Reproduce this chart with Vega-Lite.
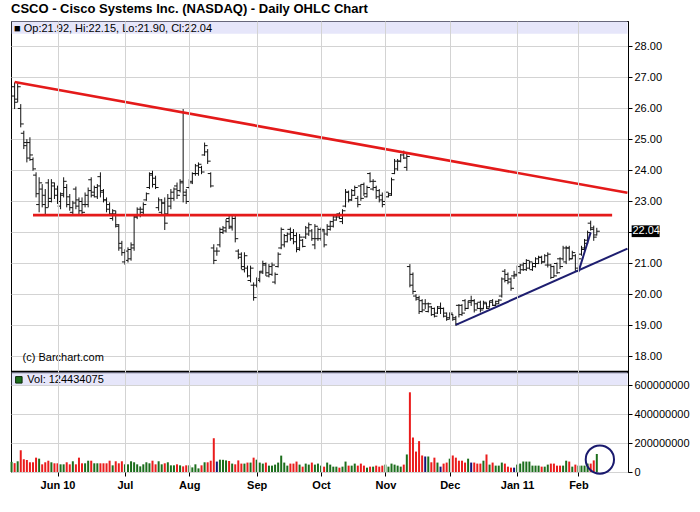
{
  "$schema": "https://vega.github.io/schema/vega-lite/v6.json",
  "description": "CSCO daily OHLC chart with volume, May 2010 - Feb 2011, with trend lines.",
  "title": {
    "text": "CSCO - Cisco Systems Inc. (NASDAQ) - Daily OHLC Chart",
    "anchor": "start",
    "frame": "group",
    "font": "Liberation Sans",
    "fontSize": 13,
    "fontWeight": "bold",
    "color": "#000",
    "baseline": "alphabetic",
    "offset": -5
  },
  "padding": {"left": 8, "top": 2, "right": 0, "bottom": 0},
  "background": "white",
  "spacing": 0,
  "bounds": "flush",
  "resolve": {"scale": {"x": "shared"}},
  "config": {
    "view": {"stroke": "#000", "strokeWidth": 1},
    "font": "Liberation Sans",
    "axis": {
      "labelFont": "Liberation Sans",
      "labelFontSize": 11,
      "labelColor": "#000",
      "gridColor": "#d3d3d3",
      "gridWidth": 1,
      "tickColor": "#000",
      "domainColor": "#000",
      "labelOverlap": false,
      "title": null
    }
  },
  "datasets": {
    "ohlc": [
      {"d":"2010-05-10","o":26.00,"h":26.52,"l":25.93,"c":26.40,"v":70000000},
      {"d":"2010-05-11","o":26.70,"h":26.84,"l":25.98,"c":26.20,"v":61000000},
      {"d":"2010-05-12","o":26.30,"h":26.81,"l":26.20,"c":26.70,"v":74000000},
      {"d":"2010-05-13","o":26.00,"h":26.14,"l":25.39,"c":25.50,"v":150000000},
      {"d":"2010-05-14","o":25.20,"h":25.28,"l":24.69,"c":24.80,"v":88000000},
      {"d":"2010-05-17","o":24.90,"h":25.01,"l":24.26,"c":24.40,"v":83000000},
      {"d":"2010-05-18","o":24.90,"h":25.07,"l":24.31,"c":24.50,"v":67000000},
      {"d":"2010-05-19","o":24.35,"h":24.42,"l":23.99,"c":24.05,"v":67000000},
      {"d":"2010-05-20","o":23.85,"h":23.94,"l":23.13,"c":23.25,"v":99000000},
      {"d":"2010-05-21","o":22.90,"h":23.78,"l":22.65,"c":23.60,"v":92000000},
      {"d":"2010-05-24","o":23.40,"h":23.56,"l":22.81,"c":22.90,"v":53000000},
      {"d":"2010-05-25","o":23.20,"h":23.40,"l":22.59,"c":22.80,"v":67000000},
      {"d":"2010-05-26","o":23.60,"h":23.72,"l":22.81,"c":23.00,"v":78000000},
      {"d":"2010-05-27","o":23.10,"h":23.72,"l":22.97,"c":23.60,"v":67000000},
      {"d":"2010-05-28","o":23.50,"h":23.61,"l":23.08,"c":23.20,"v":60000000},
      {"d":"2010-06-01","o":23.40,"h":23.51,"l":22.92,"c":23.00,"v":60000000},
      {"d":"2010-06-02","o":22.85,"h":23.29,"l":22.75,"c":23.20,"v":53000000},
      {"d":"2010-06-03","o":23.25,"h":23.78,"l":23.13,"c":23.65,"v":53000000},
      {"d":"2010-06-04","o":23.45,"h":23.56,"l":22.81,"c":22.90,"v":67000000},
      {"d":"2010-06-07","o":23.15,"h":23.24,"l":22.70,"c":22.80,"v":53000000},
      {"d":"2010-06-08","o":22.65,"h":23.02,"l":22.59,"c":22.95,"v":74000000},
      {"d":"2010-06-09","o":23.40,"h":23.48,"l":22.75,"c":22.85,"v":53000000},
      {"d":"2010-06-10","o":23.05,"h":23.13,"l":22.59,"c":22.70,"v":99000000},
      {"d":"2010-06-11","o":23.00,"h":23.13,"l":22.59,"c":22.65,"v":60000000},
      {"d":"2010-06-14","o":22.90,"h":23.29,"l":22.81,"c":23.20,"v":60000000},
      {"d":"2010-06-15","o":22.90,"h":23.45,"l":22.81,"c":23.35,"v":78000000},
      {"d":"2010-06-16","o":23.70,"h":23.78,"l":23.13,"c":23.30,"v":78000000},
      {"d":"2010-06-17","o":23.20,"h":23.51,"l":23.13,"c":23.45,"v":60000000},
      {"d":"2010-06-18","o":23.15,"h":23.56,"l":23.08,"c":23.50,"v":60000000},
      {"d":"2010-06-21","o":23.80,"h":23.94,"l":23.13,"c":23.30,"v":60000000},
      {"d":"2010-06-22","o":23.35,"h":23.40,"l":22.97,"c":23.05,"v":60000000},
      {"d":"2010-06-23","o":23.05,"h":23.13,"l":22.65,"c":22.75,"v":60000000},
      {"d":"2010-06-24","o":22.90,"h":22.97,"l":22.54,"c":22.60,"v":78000000},
      {"d":"2010-06-25","o":22.45,"h":22.75,"l":22.38,"c":22.70,"v":46000000},
      {"d":"2010-06-28","o":22.60,"h":22.70,"l":22.16,"c":22.25,"v":74000000},
      {"d":"2010-06-29","o":22.20,"h":22.27,"l":21.41,"c":21.50,"v":60000000},
      {"d":"2010-06-30","o":21.65,"h":21.73,"l":21.25,"c":21.35,"v":74000000},
      {"d":"2010-07-01","o":21.05,"h":21.46,"l":20.96,"c":21.40,"v":53000000},
      {"d":"2010-07-02","o":21.10,"h":21.52,"l":21.03,"c":21.45,"v":53000000},
      {"d":"2010-07-06","o":21.15,"h":21.68,"l":21.09,"c":21.60,"v":74000000},
      {"d":"2010-07-07","o":21.50,"h":22.59,"l":21.41,"c":22.50,"v":67000000},
      {"d":"2010-07-08","o":22.50,"h":22.81,"l":22.43,"c":22.75,"v":53000000},
      {"d":"2010-07-09","o":22.55,"h":22.83,"l":22.49,"c":22.75,"v":39000000},
      {"d":"2010-07-12","o":22.65,"h":22.97,"l":22.59,"c":22.90,"v":53000000},
      {"d":"2010-07-13","o":23.05,"h":23.29,"l":23.02,"c":23.25,"v":67000000},
      {"d":"2010-07-14","o":23.45,"h":23.94,"l":23.40,"c":23.85,"v":60000000},
      {"d":"2010-07-15","o":23.90,"h":23.99,"l":23.45,"c":23.55,"v":78000000},
      {"d":"2010-07-16","o":23.75,"h":23.83,"l":23.40,"c":23.45,"v":53000000},
      {"d":"2010-07-19","o":22.80,"h":23.13,"l":22.70,"c":23.05,"v":74000000},
      {"d":"2010-07-20","o":22.65,"h":23.08,"l":22.54,"c":22.95,"v":53000000},
      {"d":"2010-07-21","o":22.95,"h":23.13,"l":22.08,"c":22.30,"v":60000000},
      {"d":"2010-07-22","o":22.60,"h":23.24,"l":22.54,"c":23.10,"v":67000000},
      {"d":"2010-07-23","o":22.85,"h":23.40,"l":22.75,"c":23.30,"v":46000000},
      {"d":"2010-07-26","o":23.10,"h":23.45,"l":23.02,"c":23.40,"v":46000000},
      {"d":"2010-07-27","o":23.50,"h":23.61,"l":23.08,"c":23.20,"v":53000000},
      {"d":"2010-07-28","o":23.35,"h":23.72,"l":23.29,"c":23.65,"v":46000000},
      {"d":"2010-07-29","o":23.60,"h":25.98,"l":22.97,"c":23.20,"v":39000000},
      {"d":"2010-07-30","o":23.30,"h":23.40,"l":22.92,"c":23.00,"v":46000000},
      {"d":"2010-08-02","o":23.45,"h":23.72,"l":23.40,"c":23.65,"v":46000000},
      {"d":"2010-08-03","o":23.60,"h":23.94,"l":23.56,"c":23.90,"v":32000000},
      {"d":"2010-08-04","o":23.90,"h":24.21,"l":23.83,"c":24.15,"v":53000000},
      {"d":"2010-08-05","o":23.90,"h":24.26,"l":23.83,"c":24.20,"v":25000000},
      {"d":"2010-08-06","o":24.10,"h":24.15,"l":23.88,"c":23.95,"v":46000000},
      {"d":"2010-08-09","o":24.50,"h":24.90,"l":24.47,"c":24.80,"v":67000000},
      {"d":"2010-08-10","o":24.60,"h":24.69,"l":24.21,"c":24.30,"v":67000000},
      {"d":"2010-08-11","o":23.90,"h":23.94,"l":23.45,"c":23.50,"v":78000000},
      {"d":"2010-08-12","o":21.50,"h":21.62,"l":20.98,"c":21.10,"v":233000000},
      {"d":"2010-08-13","o":21.40,"h":21.52,"l":21.25,"c":21.40,"v":72000000},
      {"d":"2010-08-16","o":21.60,"h":22.16,"l":21.52,"c":22.10,"v":85000000},
      {"d":"2010-08-17","o":22.00,"h":22.21,"l":21.95,"c":22.15,"v":84000000},
      {"d":"2010-08-18","o":22.05,"h":22.43,"l":22.00,"c":22.35,"v":80000000},
      {"d":"2010-08-19","o":22.45,"h":22.54,"l":22.11,"c":22.20,"v":76000000},
      {"d":"2010-08-20","o":22.15,"h":22.54,"l":22.06,"c":22.45,"v":58000000},
      {"d":"2010-08-23","o":22.45,"h":22.54,"l":21.68,"c":21.80,"v":53000000},
      {"d":"2010-08-24","o":21.40,"h":21.46,"l":21.14,"c":21.20,"v":80000000},
      {"d":"2010-08-25","o":21.30,"h":21.36,"l":20.82,"c":20.90,"v":58000000},
      {"d":"2010-08-26","o":20.80,"h":21.36,"l":20.71,"c":21.25,"v":58000000},
      {"d":"2010-08-27","o":20.85,"h":20.93,"l":20.55,"c":20.60,"v":65000000},
      {"d":"2010-08-30","o":20.45,"h":20.93,"l":20.39,"c":20.85,"v":65000000},
      {"d":"2010-08-31","o":20.30,"h":20.39,"l":19.80,"c":19.90,"v":99000000},
      {"d":"2010-09-01","o":20.30,"h":20.55,"l":20.23,"c":20.50,"v":85000000},
      {"d":"2010-09-02","o":20.45,"h":20.76,"l":20.39,"c":20.70,"v":65000000},
      {"d":"2010-09-03","o":20.75,"h":21.09,"l":20.66,"c":21.00,"v":58000000},
      {"d":"2010-09-07","o":20.95,"h":21.03,"l":20.60,"c":20.70,"v":65000000},
      {"d":"2010-09-08","o":20.60,"h":20.98,"l":20.55,"c":20.90,"v":44000000},
      {"d":"2010-09-09","o":20.65,"h":21.03,"l":20.60,"c":20.95,"v":44000000},
      {"d":"2010-09-10","o":20.40,"h":20.71,"l":20.33,"c":20.65,"v":51000000},
      {"d":"2010-09-13","o":20.90,"h":21.36,"l":20.87,"c":21.30,"v":65000000},
      {"d":"2010-09-14","o":21.50,"h":22.16,"l":21.46,"c":22.10,"v":113000000},
      {"d":"2010-09-15","o":21.60,"h":21.95,"l":21.52,"c":21.90,"v":65000000},
      {"d":"2010-09-16","o":21.70,"h":22.00,"l":21.68,"c":21.95,"v":44000000},
      {"d":"2010-09-17","o":22.10,"h":22.16,"l":21.73,"c":21.80,"v":58000000},
      {"d":"2010-09-20","o":22.00,"h":22.11,"l":21.62,"c":21.70,"v":58000000},
      {"d":"2010-09-21","o":21.90,"h":22.00,"l":21.36,"c":21.45,"v":72000000},
      {"d":"2010-09-22","o":21.50,"h":21.95,"l":21.41,"c":21.85,"v":51000000},
      {"d":"2010-09-23","o":21.75,"h":21.79,"l":21.52,"c":21.55,"v":37000000},
      {"d":"2010-09-24","o":21.85,"h":22.21,"l":21.79,"c":22.15,"v":58000000},
      {"d":"2010-09-27","o":21.95,"h":22.32,"l":21.89,"c":22.25,"v":51000000},
      {"d":"2010-09-28","o":22.05,"h":22.11,"l":21.73,"c":21.80,"v":65000000},
      {"d":"2010-09-29","o":21.60,"h":22.27,"l":21.46,"c":22.20,"v":51000000},
      {"d":"2010-09-30","o":21.80,"h":22.16,"l":21.73,"c":22.10,"v":58000000},
      {"d":"2010-10-01","o":21.80,"h":22.16,"l":21.73,"c":22.10,"v":44000000},
      {"d":"2010-10-04","o":22.05,"h":22.11,"l":21.52,"c":21.60,"v":37000000},
      {"d":"2010-10-05","o":21.95,"h":22.27,"l":21.89,"c":22.20,"v":65000000},
      {"d":"2010-10-06","o":22.10,"h":22.38,"l":22.06,"c":22.35,"v":51000000},
      {"d":"2010-10-07","o":22.20,"h":22.54,"l":22.16,"c":22.50,"v":37000000},
      {"d":"2010-10-08","o":22.40,"h":22.54,"l":22.38,"c":22.50,"v":37000000},
      {"d":"2010-10-11","o":22.60,"h":22.65,"l":22.43,"c":22.45,"v":30000000},
      {"d":"2010-10-12","o":22.35,"h":22.75,"l":22.27,"c":22.70,"v":37000000},
      {"d":"2010-10-13","o":22.85,"h":23.40,"l":22.81,"c":23.30,"v":72000000},
      {"d":"2010-10-14","o":23.30,"h":23.35,"l":22.97,"c":23.05,"v":44000000},
      {"d":"2010-10-15","o":23.05,"h":23.40,"l":23.02,"c":23.35,"v":44000000},
      {"d":"2010-10-18","o":23.20,"h":23.51,"l":23.18,"c":23.45,"v":58000000},
      {"d":"2010-10-19","o":23.10,"h":23.18,"l":22.81,"c":22.90,"v":44000000},
      {"d":"2010-10-20","o":23.50,"h":23.56,"l":23.02,"c":23.10,"v":58000000},
      {"d":"2010-10-21","o":23.55,"h":23.61,"l":23.18,"c":23.25,"v":44000000},
      {"d":"2010-10-22","o":23.15,"h":23.51,"l":23.13,"c":23.45,"v":30000000},
      {"d":"2010-10-25","o":23.90,"h":23.94,"l":23.61,"c":23.65,"v":37000000},
      {"d":"2010-10-26","o":23.40,"h":23.72,"l":23.35,"c":23.65,"v":37000000},
      {"d":"2010-10-27","o":23.45,"h":23.51,"l":23.08,"c":23.15,"v":44000000},
      {"d":"2010-10-28","o":23.35,"h":23.40,"l":22.97,"c":23.05,"v":37000000},
      {"d":"2010-10-29","o":23.20,"h":23.29,"l":22.81,"c":22.90,"v":44000000},
      {"d":"2010-11-01","o":23.00,"h":23.35,"l":22.97,"c":23.30,"v":51000000},
      {"d":"2010-11-02","o":23.15,"h":23.29,"l":23.13,"c":23.25,"v":37000000},
      {"d":"2010-11-03","o":23.20,"h":23.77,"l":23.18,"c":23.70,"v":58000000},
      {"d":"2010-11-04","o":23.90,"h":24.37,"l":23.88,"c":24.30,"v":51000000},
      {"d":"2010-11-05","o":24.05,"h":24.37,"l":23.99,"c":24.30,"v":44000000},
      {"d":"2010-11-08","o":24.30,"h":24.53,"l":24.26,"c":24.50,"v":37000000},
      {"d":"2010-11-09","o":24.60,"h":24.64,"l":24.37,"c":24.40,"v":51000000},
      {"d":"2010-11-10","o":24.10,"h":24.58,"l":23.99,"c":24.45,"v":121000000},
      {"d":"2010-11-11","o":20.90,"h":20.98,"l":20.23,"c":20.30,"v":550000000},
      {"d":"2010-11-12","o":20.65,"h":20.71,"l":20.01,"c":20.10,"v":238000000},
      {"d":"2010-11-15","o":19.95,"h":20.01,"l":19.80,"c":19.85,"v":141000000},
      {"d":"2010-11-16","o":19.90,"h":19.96,"l":19.37,"c":19.45,"v":213000000},
      {"d":"2010-11-17","o":19.80,"h":19.85,"l":19.42,"c":19.50,"v":114000000},
      {"d":"2010-11-18","o":19.70,"h":19.85,"l":19.53,"c":19.70,"v":107000000},
      {"d":"2010-11-19","o":19.45,"h":19.74,"l":19.42,"c":19.70,"v":107000000},
      {"d":"2010-11-22","o":19.60,"h":19.63,"l":19.31,"c":19.35,"v":67000000},
      {"d":"2010-11-23","o":19.55,"h":19.58,"l":19.26,"c":19.30,"v":99000000},
      {"d":"2010-11-24","o":19.40,"h":19.63,"l":19.37,"c":19.60,"v":65000000},
      {"d":"2010-11-26","o":19.55,"h":19.74,"l":19.37,"c":19.55,"v":37000000},
      {"d":"2010-11-29","o":19.55,"h":19.58,"l":19.26,"c":19.30,"v":58000000},
      {"d":"2010-11-30","o":19.40,"h":19.42,"l":19.15,"c":19.20,"v":65000000},
      {"d":"2010-12-01","o":19.25,"h":19.42,"l":19.21,"c":19.40,"v":92000000},
      {"d":"2010-12-02","o":19.35,"h":19.37,"l":19.15,"c":19.20,"v":114000000},
      {"d":"2010-12-03","o":19.25,"h":19.31,"l":18.99,"c":19.05,"v":99000000},
      {"d":"2010-12-06","o":19.65,"h":19.69,"l":19.26,"c":19.35,"v":78000000},
      {"d":"2010-12-07","o":19.65,"h":19.69,"l":19.31,"c":19.40,"v":78000000},
      {"d":"2010-12-08","o":19.80,"h":19.85,"l":19.47,"c":19.55,"v":65000000},
      {"d":"2010-12-09","o":19.55,"h":19.80,"l":19.53,"c":19.75,"v":92000000},
      {"d":"2010-12-10","o":19.80,"h":19.96,"l":19.63,"c":19.80,"v":65000000},
      {"d":"2010-12-13","o":19.80,"h":19.85,"l":19.42,"c":19.50,"v":65000000},
      {"d":"2010-12-14","o":19.70,"h":19.74,"l":19.53,"c":19.55,"v":58000000},
      {"d":"2010-12-15","o":19.75,"h":19.80,"l":19.42,"c":19.50,"v":58000000},
      {"d":"2010-12-16","o":19.55,"h":19.80,"l":19.53,"c":19.75,"v":78000000},
      {"d":"2010-12-17","o":19.70,"h":19.74,"l":19.53,"c":19.55,"v":121000000},
      {"d":"2010-12-20","o":19.60,"h":19.80,"l":19.58,"c":19.75,"v":51000000},
      {"d":"2010-12-21","o":19.80,"h":19.85,"l":19.63,"c":19.65,"v":65000000},
      {"d":"2010-12-22","o":19.65,"h":19.80,"l":19.63,"c":19.78,"v":44000000},
      {"d":"2010-12-23","o":19.70,"h":19.85,"l":19.69,"c":19.82,"v":44000000},
      {"d":"2010-12-27","o":19.95,"h":20.55,"l":19.90,"c":20.50,"v":65000000},
      {"d":"2010-12-28","o":20.75,"h":20.82,"l":20.39,"c":20.45,"v":58000000},
      {"d":"2010-12-29","o":20.65,"h":20.71,"l":20.33,"c":20.40,"v":37000000},
      {"d":"2010-12-30","o":20.50,"h":20.55,"l":20.12,"c":20.20,"v":30000000},
      {"d":"2010-12-31","o":20.60,"h":20.76,"l":20.50,"c":20.60,"v":30000000},
      {"d":"2011-01-03","o":20.65,"h":20.93,"l":20.60,"c":20.90,"v":51000000},
      {"d":"2011-01-04","o":20.70,"h":20.98,"l":20.66,"c":20.95,"v":58000000},
      {"d":"2011-01-05","o":20.80,"h":21.03,"l":20.76,"c":21.00,"v":72000000},
      {"d":"2011-01-06","o":20.80,"h":21.14,"l":20.76,"c":21.10,"v":72000000},
      {"d":"2011-01-07","o":20.85,"h":21.09,"l":20.82,"c":21.05,"v":72000000},
      {"d":"2011-01-10","o":20.80,"h":21.03,"l":20.76,"c":21.00,"v":44000000},
      {"d":"2011-01-11","o":20.90,"h":21.20,"l":20.87,"c":21.15,"v":44000000},
      {"d":"2011-01-12","o":21.00,"h":21.25,"l":20.98,"c":21.20,"v":44000000},
      {"d":"2011-01-13","o":21.20,"h":21.25,"l":20.98,"c":21.05,"v":37000000},
      {"d":"2011-01-14","o":21.05,"h":21.30,"l":21.03,"c":21.25,"v":37000000},
      {"d":"2011-01-18","o":20.95,"h":21.36,"l":20.87,"c":21.30,"v":51000000},
      {"d":"2011-01-19","o":20.95,"h":20.98,"l":20.50,"c":20.55,"v":58000000},
      {"d":"2011-01-20","o":20.90,"h":20.93,"l":20.55,"c":20.60,"v":58000000},
      {"d":"2011-01-21","o":21.00,"h":21.03,"l":20.66,"c":20.70,"v":44000000},
      {"d":"2011-01-24","o":21.15,"h":21.20,"l":20.82,"c":20.90,"v":44000000},
      {"d":"2011-01-25","o":21.15,"h":21.57,"l":21.09,"c":21.50,"v":44000000},
      {"d":"2011-01-26","o":21.05,"h":21.57,"l":20.98,"c":21.50,"v":78000000},
      {"d":"2011-01-27","o":21.50,"h":21.57,"l":21.09,"c":21.15,"v":72000000},
      {"d":"2011-01-28","o":21.15,"h":21.41,"l":21.14,"c":21.35,"v":37000000},
      {"d":"2011-01-31","o":21.25,"h":21.30,"l":20.76,"c":20.85,"v":51000000},
      {"d":"2011-02-01","o":20.75,"h":21.20,"l":20.71,"c":21.15,"v":44000000},
      {"d":"2011-02-02","o":21.30,"h":21.57,"l":21.25,"c":21.50,"v":44000000},
      {"d":"2011-02-03","o":21.45,"h":21.79,"l":21.41,"c":21.75,"v":44000000},
      {"d":"2011-02-04","o":21.65,"h":22.06,"l":21.63,"c":22.00,"v":58000000},
      {"d":"2011-02-07","o":22.30,"h":22.38,"l":22.06,"c":22.10,"v":58000000},
      {"d":"2011-02-08","o":22.15,"h":22.22,"l":21.73,"c":21.85,"v":80000000},
      {"d":"2011-02-09","o":21.92,"h":22.15,"l":21.90,"c":22.04,"v":124434075}
    ],
    "trend": [
      {"line":"upper","kind":"resistance","d":"2010-05-11","p":26.85},
      {"line":"upper","kind":"resistance","d":"2011-02-24","p":23.28},
      {"line":"neck","kind":"resistance","d":"2010-05-19","p":22.56},
      {"line":"neck","kind":"resistance","d":"2011-02-16","p":22.56},
      {"line":"lower","kind":"support","d":"2010-12-03","p":19.02},
      {"line":"lower","kind":"support","d":"2011-02-24","p":21.48},
      {"line":"steep","kind":"support","d":"2011-02-01","p":20.73},
      {"line":"steep","kind":"support","d":"2011-02-07","p":22.00}
    ]
  },
  "vconcat": [
    {
      "width": 617,
      "height": 351,
      "layer": [
        {
          "data": {"values": [{}]},
          "mark": {"type": "rect", "color": "#cdcdf5", "opacity": 0.5},
          "encoding": {
            "x": {"datum": "2010-05-10", "type": "ordinal"},
            "x2": {"datum": "2011-02-24"},
            "y": {"datum": 28.41, "type": "quantitative"},
            "y2": {"datum": 28.82}
          }
        },
        {
          "data": {"name": "ohlc"},
          "mark": {"type": "rule", "color": "#111", "strokeWidth": 1},
          "encoding": {
            "x": {
              "field": "d",
              "type": "ordinal",
              "scale": {
                "type": "point",
                "padding": 0.18,
                "domain": {"unionWith": ["2011-02-10","2011-02-11","2011-02-14","2011-02-15","2011-02-16","2011-02-17","2011-02-18","2011-02-22","2011-02-23","2011-02-24"]}
              },
              "axis": {
                "values": ["2010-06-01","2010-07-01","2010-08-02","2010-09-01","2010-10-01","2010-11-01","2010-12-01","2011-01-03","2011-02-01"],
                "labels": false,
                "ticks": false,
                "domain": false,
                "grid": true,
                "minExtent": 0,
                "maxExtent": 0
              }
            },
            "y": {
              "field": "h",
              "type": "quantitative",
              "scale": {"domain": [17.5, 28.82], "nice": false, "zero": false},
              "axis": {
                "orient": "right",
                "values": [18,19,20,21,22,23,24,25,26,27,28],
                "tickCount": 30,
                "labelExpr": "datum.value == 22 ? '' : format(datum.value, '.2f')",
                "grid": true,
                "tickSize": 4,
                "labelPadding": 2,
                "labelOverlap": false,
                "labelBound": false
              }
            },
            "y2": {"field": "l"}
          }
        },
        {
          "data": {"name": "ohlc"},
          "mark": {"type": "tick", "orient": "horizontal", "size": 3, "thickness": 1, "xOffset": -1.5, "color": "#111", "opacity": 1, "clip": true},
          "encoding": {
            "x": {"field": "d", "type": "ordinal"},
            "y": {"field": "o", "type": "quantitative"}
          }
        },
        {
          "data": {"name": "ohlc"},
          "mark": {"type": "tick", "orient": "horizontal", "size": 3, "thickness": 1, "xOffset": 1.5, "color": "#111", "opacity": 1, "clip": true},
          "encoding": {
            "x": {"field": "d", "type": "ordinal"},
            "y": {"field": "c", "type": "quantitative"}
          }
        },
        {
          "data": {"name": "trend"},
          "transform": [{"filter": "datum.kind == 'resistance'"}],
          "mark": {"type": "line", "color": "#e41a1a", "strokeWidth": 2.6},
          "encoding": {
            "x": {"field": "d", "type": "ordinal"},
            "y": {"field": "p", "type": "quantitative"},
            "detail": {"field": "line", "type": "nominal"}
          }
        },
        {
          "data": {"name": "trend"},
          "transform": [{"filter": "datum.kind == 'support'"}],
          "mark": {"type": "line", "color": "#1e1e70", "strokeWidth": 2},
          "encoding": {
            "x": {"field": "d", "type": "ordinal"},
            "y": {"field": "p", "type": "quantitative"},
            "detail": {"field": "line", "type": "nominal"}
          }
        },
        {
          "data": {"values": [{}]},
          "mark": {"type": "rule", "color": "#000", "strokeWidth": 2.5},
          "encoding": {"y": {"datum": 17.5, "type": "quantitative"}}
        },
        {
          "data": {"values": [{}]},
          "mark": {"type": "text", "align": "left", "baseline": "middle", "dx": 2.5, "fontSize": 11, "color": "#000"},
          "encoding": {
            "x": {"datum": "2010-05-10", "type": "ordinal"},
            "y": {"datum": 28.57, "type": "quantitative"},
            "text": {"value": "■ Op:21.92, Hi:22.15, Lo:21.90, Cl:22.04"}
          }
        },
        {
          "data": {"values": [{}]},
          "mark": {"type": "text", "align": "left", "baseline": "middle", "dx": 11, "fontSize": 11, "color": "#000"},
          "encoding": {
            "x": {"datum": "2010-05-10", "type": "ordinal"},
            "y": {"datum": 17.96, "type": "quantitative"},
            "text": {"value": "(c) Barchart.com"}
          }
        },
        {
          "data": {"values": [{}]},
          "mark": {"type": "point", "shape": "M-1,-0.42L1,-0.42L1,0.42L-1,0.42Z", "size": 784, "filled": true, "color": "#000", "opacity": 1, "xOffset": 18.2},
          "encoding": {
            "x": {"datum": "2011-02-24", "type": "ordinal"},
            "y": {"datum": 22.04, "type": "quantitative"}
          }
        },
        {
          "data": {"values": [{}]},
          "mark": {"type": "text", "align": "left", "baseline": "middle", "dx": 5, "fontSize": 11, "color": "#fff"},
          "encoding": {
            "x": {"datum": "2011-02-24", "type": "ordinal"},
            "y": {"datum": 22.04, "type": "quantitative"},
            "text": {"value": "22.04"}
          }
        }
      ]
    },
    {
      "width": 617,
      "height": 100,
      "layer": [
        {
          "data": {"values": [{}]},
          "mark": {"type": "rect", "color": "#cdcdf5", "opacity": 0.5},
          "encoding": {
            "x": {"datum": "2010-05-10", "type": "ordinal"},
            "x2": {"datum": "2011-02-24"},
            "y": {"datum": 600000000, "type": "quantitative"},
            "y2": {"datum": 690000000}
          }
        },
        {
          "data": {"name": "ohlc"},
          "mark": {"type": "bar", "size": 2},
          "encoding": {
            "x": {
              "field": "d",
              "type": "ordinal",
              "scale": {
                "type": "point",
                "padding": 0.18,
                "domain": {"unionWith": ["2011-02-10","2011-02-11","2011-02-14","2011-02-15","2011-02-16","2011-02-17","2011-02-18","2011-02-22","2011-02-23","2011-02-24"]}
              },
              "axis": {
                "values": ["2010-06-01","2010-07-01","2010-08-02","2010-09-01","2010-10-01","2010-11-01","2010-12-01","2011-01-03","2011-02-01"],
                "labelExpr": "['Jan 11','Feb','Mar','Apr','May','Jun 10','Jul','Aug','Sep','Oct','Nov','Dec'][toNumber(slice(datum.value, 5, 7)) - 1]",
                "labelAngle": 0,
                "labelAlign": "center",
                "labelBaseline": "top",
                "labelFontWeight": "bold",
                "labelPadding": 3,
                "ticks": true,
                "tickSize": 4,
                "domain": false,
                "grid": true
              }
            },
            "y": {
              "field": "v",
              "type": "quantitative",
              "scale": {"domain": [0, 690000000], "nice": false},
              "axis": {
                "orient": "right",
                "values": [0, 200000000, 400000000, 600000000],
                "tickCount": 20,
                "format": "d",
                "grid": true,
                "tickSize": 4,
                "labelPadding": 2,
                "labelOverlap": false,
                "labelBound": false
              }
            },
            "color": {
              "condition": [
                {"test": "datum.c > datum.o", "value": "#1c6e1c"},
                {"test": "datum.c < datum.o", "value": "#ea1c1c"}
              ],
              "value": "#141478"
            }
          }
        },
        {
          "data": {"values": [{}]},
          "mark": {"type": "point", "shape": "square", "size": 42, "filled": true, "fill": "#1c6e1c", "stroke": "#0a2a0a", "strokeWidth": 1, "opacity": 1, "xOffset": 7.3},
          "encoding": {
            "x": {"datum": "2010-05-10", "type": "ordinal"},
            "y": {"datum": 636000000, "type": "quantitative"}
          }
        },
        {
          "data": {"values": [{}]},
          "mark": {"type": "text", "align": "left", "baseline": "middle", "dx": 15.8, "fontSize": 11, "color": "#000"},
          "encoding": {
            "x": {"datum": "2010-05-10", "type": "ordinal"},
            "y": {"datum": 636000000, "type": "quantitative"},
            "text": {"value": "Vol: 124434075"}
          }
        },
        {
          "data": {"values": [{}]},
          "mark": {"type": "point", "shape": "circle", "size": 800, "filled": false, "color": "#1a1a6e", "strokeWidth": 2, "opacity": 1},
          "encoding": {
            "x": {"datum": "2011-02-10", "type": "ordinal"},
            "y": {"datum": 86000000, "type": "quantitative"}
          }
        }
      ]
    }
  ]
}
